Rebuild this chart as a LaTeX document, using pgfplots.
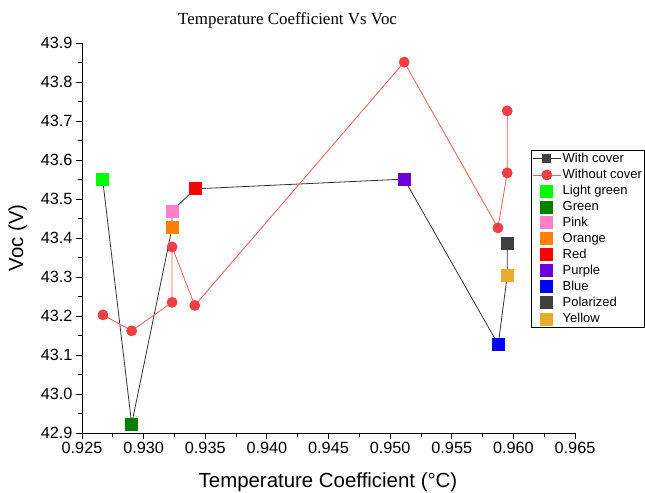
\documentclass[border=0pt]{standalone}
\usepackage{fontspec}
\setmainfont{Liberation Sans}
\newfontfamily\timesfont{Liberation Serif}
\usepackage{pgfplots}
\pgfplotsset{compat=1.18}
\definecolor{lgreen}{HTML}{00FF00}
\definecolor{dgreen}{HTML}{007F00}
\definecolor{cpink}{HTML}{FF80C8}
\definecolor{corange}{HTML}{FF7F00}
\definecolor{cred}{HTML}{FF0000}
\definecolor{cpurple}{HTML}{6A00D8}
\definecolor{cblue}{HTML}{0000FF}
\definecolor{cpol}{HTML}{404040}
\definecolor{cyellow}{HTML}{E6AC2E}
\definecolor{rcirc}{HTML}{EE4044}
\definecolor{rline}{HTML}{F05A5A}
\begin{document}
\begin{tikzpicture}
\path[use as bounding box] (-82bp,-60bp) rectangle (563bp,433bp);
\begin{axis}[
  scale only axis, width=493bp, height=390bp,
  xmin=0.925, xmax=0.965, ymin=42.9, ymax=43.9,
  axis x line*=bottom, axis y line*=left,
  axis line style={line width=0.8bp},
  xtick={0.925,0.930,0.935,0.940,0.945,0.950,0.955,0.960,0.965},
  ytick={42.9,43.0,43.1,43.2,43.3,43.4,43.5,43.6,43.7,43.8,43.9},
  scaled x ticks=false, scaled y ticks=false,
  minor x tick num=1, minor y tick num=1,
  tick align=outside,
  major tick length=6bp, minor tick length=3.5bp,
  tick style={black, line width=0.8bp},
  /pgf/number format/assume math mode=true,
  xticklabel style={/pgf/number format/.cd, fixed, fixed zerofill, precision=3},
  yticklabel style={/pgf/number format/.cd, fixed, fixed zerofill, precision=1},
  tick label style={font=\fontsize{16.3}{16.3}\selectfont},
  xlabel={Temperature Coefficient (°C)},
  ylabel={Voc (V)},
  label style={font=\fontsize{20.5}{20.5}\selectfont},
  xlabel style={at={(axis description cs:0.499,-0.126)}, anchor=center},
  ylabel style={at={(axis description cs:-0.13,0.5)}, anchor=center, rotate=0},
  title={\timesfont Temperature Coefficient Vs Voc},
  title style={at={(axis description cs:0.417,1.042)}, anchor=center, font=\fontsize{17}{17}\selectfont},
  legend style={at={(axis description cs:0.9108,0.7256)}, anchor=north west,
    draw=black, line width=0.8bp, font=\fontsize{13}{13}\selectfont,
    inner xsep=1bp, inner ysep=1.5bp, row sep=2.2bp,
    nodes={inner sep=1.5bp}, cells={anchor=west}},
  legend image code/.code={\draw[mark repeat=2,mark phase=2,#1] plot coordinates {(0bp,0bp) (14bp,0bp) (28bp,0bp)};},
  every axis plot/.append style={line width=0.8bp},
]
\addplot[color=cpol!80!black, mark=square*, mark size=4bp, mark options={fill=cpol, draw=cpol}]
 coordinates {(0.92668,43.549) (0.92903,42.923) (0.93231,43.426) (0.93231,43.469) (0.93417,43.526) (0.95114,43.551) (0.95877,43.127) (0.9595,43.303) (0.9595,43.387)};
\addlegendentry{With cover}
\addplot[color=rline, mark=*, mark size=5bp, mark options={fill=rcirc, draw=rcirc}]
 coordinates {(0.9267,43.203) (0.92903,43.162) (0.93231,43.235) (0.93231,43.377) (0.93415,43.227) (0.95114,43.851) (0.95875,43.426) (0.9595,43.567) (0.9595,43.726)};
\addlegendentry{Without cover}
\addplot[only marks, mark=square*, mark size=6bp, color=lgreen] coordinates {(0.92668,43.549)};
\addlegendentry{Light green}
\addplot[only marks, mark=square*, mark size=6bp, color=dgreen] coordinates {(0.92903,42.923)};
\addlegendentry{Green}
\addplot[only marks, mark=square*, mark size=6bp, color=cpink] coordinates {(0.93231,43.469)};
\addlegendentry{Pink}
\addplot[only marks, mark=square*, mark size=6bp, color=corange] coordinates {(0.93231,43.426)};
\addlegendentry{Orange}
\addplot[only marks, mark=square*, mark size=6bp, color=cred] coordinates {(0.93417,43.526)};
\addlegendentry{Red}
\addplot[only marks, mark=square*, mark size=6bp, color=cpurple] coordinates {(0.95114,43.551)};
\addlegendentry{Purple}
\addplot[only marks, mark=square*, mark size=6bp, color=cblue] coordinates {(0.95877,43.127)};
\addlegendentry{Blue}
\addplot[only marks, mark=square*, mark size=6bp, color=cpol] coordinates {(0.9595,43.387)};
\addlegendentry{Polarized}
\addplot[only marks, mark=square*, mark size=6bp, color=cyellow] coordinates {(0.9595,43.303)};
\addlegendentry{Yellow}
\end{axis}
\end{tikzpicture}
\end{document}
